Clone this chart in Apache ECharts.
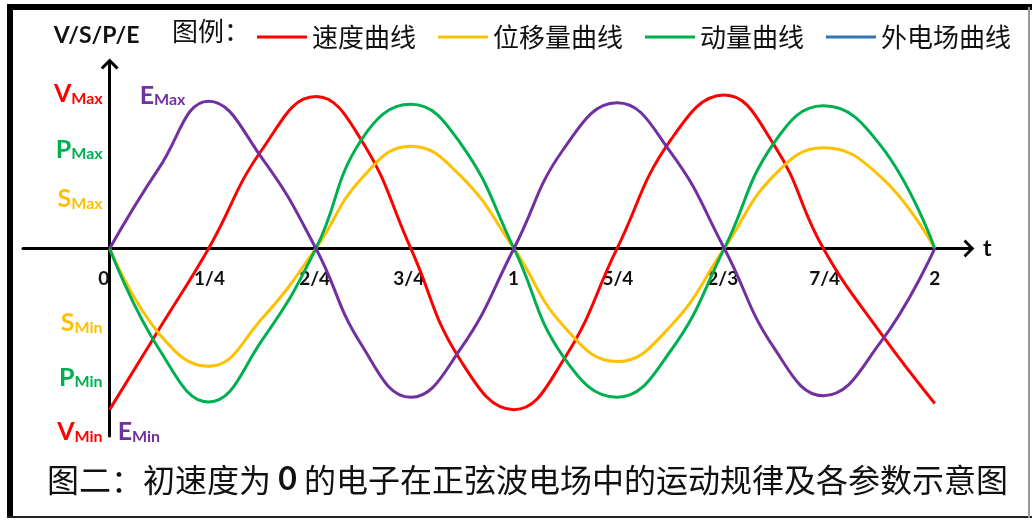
<!DOCTYPE html>
<html>
<head>
<meta charset="utf-8">
<script src="https://cdn.jsdelivr.net/npm/echarts@6/dist/echarts.min.js"></script>
<style>
  html, body { margin: 0; padding: 0; background: #fff; }
  #chart { width: 1032px; height: 520px; }
</style>
</head>
<body>
<div id="chart"></div>
<script>
// series names (legend order)
const seriesNames = ["速度曲线", "位移量曲线", "动量曲线", "外电场曲线"];

const tPos = [0, 0.12, 0.24, 0.37, 0.5, 0.61, 0.73, 0.85, 0.98, 1.1, 1.23, 1.36, 1.49, 1.61, 1.73, 1.87, 2.0];

// curve values at those positions (1 = about one "V max")
const velocity = [-1.04, -0.52, 0, 0.64, 0.98, 0.7, 0, -0.72, -1.04, -0.72, 0, 0.7, 0.99, 0.67, 0, -0.55, -1.0];
const displacement = [0, -0.55, -0.76, -0.45, 0, 0.45, 0.66, 0.47, 0, -0.5, -0.73, -0.5, 0, 0.47, 0.65, 0.46, 0];
const momentum = [0, -0.65, -0.99, -0.59, 0, 0.7, 0.93, 0.68, 0, -0.7, -0.96, -0.66, 0, 0.68, 0.92, 0.66, 0];
const field = [0, 0.52, 0.95, 0.58, 0, -0.62, -0.96, -0.65, 0, 0.64, 0.94, 0.62, 0, -0.64, -0.95, -0.6, 0];

// x tick labels and where they sit
const xTickVals = [0, 0.242, 0.497, 0.725, 0.979, 1.232, 1.486, 1.733, 2.0];
const xTickLabels = ["0", "1/4", "2/4", "3/4", "1", "5/4", "2/3", "7/4", "2"];

// y tick labels (left of axis)
const yTickVals = [1.0, 0.64, 0.32, -0.48, -0.83, -1.18];
const yTickLetters = ["V", "P", "S", "S", "P", "V"];
const yTickSubs = ["Max", "Max", "Max", "Min", "Min", "Min"];
const yTickKeys = ["r", "g", "y", "y", "g", "r"];

// E labels (right of axis)
const eTickVals = [0.99, -1.18];
const eTickSubs = ["Max", "Min"];

const colors = {
  r: "#ff0000",
  y: "#ffc000",
  g: "#00b050",
  p: "#7030a0",
};
const legendBlue = "#2e75b6";

// axis extents and grid box
const xMin = -0.21, xMax = 2.083;
const yMin = -1.21, yMax = 1.19;
const gridLeft = 23, gridRight = 63, gridTop = 64, gridBottom = 84;
const gridW = 1032 - gridLeft - gridRight;
const gridH = 520 - gridTop - gridBottom;
// shift axes so they cross at the origin (labels follow the offset)
const yAxisOffset = -((0 - xMin) / (xMax - xMin)) * gridW;
const xAxisOffset = -((0 - yMin) / (yMax - yMin)) * gridH;

function nearestIndex(arr, v) {
  let best = 0;
  for (let i = 1; i < arr.length; i++) {
    if (Math.abs(arr[i] - v) < Math.abs(arr[best] - v)) best = i;
  }
  return best;
}

function toPairs(vals) {
  return vals.map(function (v, i) { return [tPos[i], v]; });
}

// open chevron arrow with a short stem, tip pointing up
const arrowPath = "path://M10,0 L20,10 L17.5,12 L10,4.5 L2.5,12 L0,10 Z M8.6,3 L11.4,3 L11.4,12 L8.6,12 Z";

const labelFont = "Lato";
function richFor(key, big, small) {
  let o = {};
  o[key] = { color: colors[key], fontSize: big, fontWeight: "bold", fontFamily: labelFont, verticalAlign: "bottom", lineHeight: 26 };
  o[key + "s"] = { color: colors[key], fontSize: small, fontWeight: "bold", fontFamily: labelFont, verticalAlign: "bottom", lineHeight: 26 };
  return o;
}
const yRich = Object.assign({}, richFor("r", 25, 16), richFor("g", 25, 16), richFor("y", 25, 16));
const eRich = Object.assign({}, richFor("p", 25, 16));
eRich.pe = Object.assign({}, eRich.p, { padding: [0, 0, 0, 22] });

let chartDom = document.getElementById("chart");
let myChart = echarts.init(chartDom);

let lineColors = [colors.r, colors.y, colors.g, colors.p];
let seriesData = [velocity, displacement, momentum, field];

let option = {
  animation: false,
  backgroundColor: "#fff",
  title: {
    text: "{a|图二：初速度为 }{b|0}{a| 的电子在正弦波电场中的运动规律及各参数示意图}",
    left: 42,
    top: 459,
    textStyle: {
      fontWeight: "normal",
      rich: {
        a: { fontSize: 32, color: "#111", fontWeight: "normal", fontFamily: "Noto Sans CJK SC" },
        b: { fontSize: 32, color: "#111", fontWeight: "bold", fontFamily: labelFont },
      },
    },
  },
  legend: {
    top: 19,
    left: 252,
    icon: "rect",
    itemWidth: 50,
    itemHeight: 3,
    itemGap: 22,
    textStyle: { fontSize: 26, color: "#111", fontFamily: "Noto Sans CJK SC" },
    data: [
      { name: seriesNames[0] },
      { name: seriesNames[1] },
      { name: seriesNames[2] },
      { name: seriesNames[3], itemStyle: { color: legendBlue } },
    ],
  },
  graphic: [
    { type: "line", shape: { x1: 10, y1: 4, x2: 10, y2: 518 }, style: { stroke: "#000", lineWidth: 6 } },
    { type: "line", shape: { x1: 7, y1: 7, x2: 1032, y2: 7 }, style: { stroke: "#000", lineWidth: 6 } },
    { type: "line", shape: { x1: 7, y1: 517, x2: 1032, y2: 517 }, style: { stroke: "#222", lineWidth: 2 } },
    { type: "line", shape: { x1: 1029, y1: 7, x2: 1029, y2: 518 }, style: { stroke: "#999", lineWidth: 2 } },
    {
      type: "text",
      left: 172,
      top: 18,
      style: { text: "图例：", fontSize: 26, fill: "#111", fontFamily: "Noto Sans CJK SC" },
    },
  ],
  grid: {
    left: gridLeft,
    right: gridRight,
    top: gridTop,
    bottom: gridBottom,
    outerBoundsMode: "none",
  },
  xAxis: {
    type: "value",
    min: xMin,
    max: xMax,
    position: "bottom",
    offset: xAxisOffset,
    name: "t",
    nameLocation: "end",
    nameGap: 14,
    nameTextStyle: { fontSize: 23, fontWeight: "bold", color: "#111", fontFamily: labelFont, padding: [0, 0, 10, 0] },
    axisLine: {
      onZero: false,
      symbol: ["none", arrowPath],
      symbolSize: [18, 11],
      lineStyle: { color: "#000", width: 3 },
    },
    axisTick: { show: false },
    splitLine: { show: false },
    axisLabel: {
      customValues: xTickVals,
      margin: 21,
      color: "#111",
      fontSize: 19,
      fontWeight: "bold",
      fontFamily: labelFont,
      formatter: function (value) {
        let i = nearestIndex(xTickVals, value);
        return i === 0 ? "{z|" + xTickLabels[i] + "}" : xTickLabels[i];
      },
      rich: {
        z: { fontSize: 19, fontWeight: "bold", color: "#111", fontFamily: labelFont, padding: [0, 12, 0, 0] },
      },
    },
  },
  yAxis: [
    {
      type: "value",
      min: yMin,
      max: yMax,
      position: "left",
      offset: yAxisOffset,
      name: "V/S/P/E",
      nameLocation: "end",
      nameGap: 17,
      nameTextStyle: { fontSize: 23, fontWeight: "bold", color: "#111", fontFamily: labelFont, padding: [0, 26, 0, 0] },
      axisLine: {
        show: true,
        onZero: false,
        symbol: ["none", arrowPath],
        symbolSize: [18, 11],
        lineStyle: { color: "#000", width: 3 },
      },
      axisTick: { show: false },
      splitLine: { show: false },
      axisLabel: {
        customValues: yTickVals,
        margin: 7,
        formatter: function (value) {
          let i = nearestIndex(yTickVals, value);
          let k = yTickKeys[i];
          return "{" + k + "|" + yTickLetters[i] + "}{" + k + "s|" + yTickSubs[i] + "}";
        },
        rich: yRich,
      },
    },
    {
      type: "value",
      min: yMin,
      max: yMax,
      position: "left",
      offset: yAxisOffset,
      axisLine: { show: false, onZero: false },
      axisTick: { show: false },
      splitLine: { show: false },
      axisLabel: {
        inside: true,
        customValues: eTickVals,
        margin: 8,
        formatter: function (value) {
          let i = nearestIndex(eTickVals, value);
          return (i === 0 ? "{pe|E}" : "{p|E}") + "{ps|" + eTickSubs[i] + "}";
        },
        rich: eRich,
      },
    },
  ],
  series: seriesNames.map(function (name, i) {
    return {
      name: name,
      type: "line",
      smooth: 0.45,
      symbol: "none",
      data: toPairs(seriesData[i]),
      lineStyle: { width: 3, color: lineColors[i] },
      itemStyle: { color: lineColors[i] },
      z: 3,
    };
  }),
};

myChart.setOption(option);

window.addEventListener("resize", function () {
  myChart.resize();
});
</script>
</body>
</html>
